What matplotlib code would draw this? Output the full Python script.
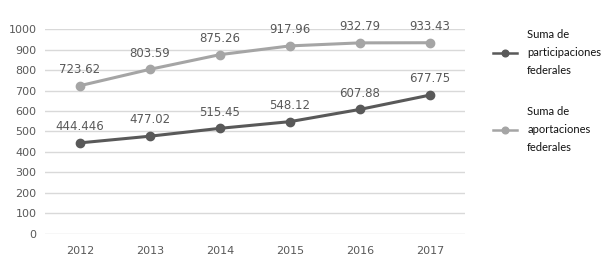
import matplotlib.pyplot as plt

years = ['2012', '2013', '2014', '2015', '2016', '2017']
participaciones = [444.446, 477.02, 515.45, 548.12, 607.88, 677.75]
aportaciones = [723.62, 803.59, 875.26, 917.96, 932.79, 933.43]
part_labels = ['444.446', '477.02', '515.45', '548.12', '607.88', '677.75']
apor_labels = ['723.62', '803.59', '875.26', '917.96', '932.79', '933.43']

dark = '#595959'
light = '#A5A5A5'

fig = plt.figure(figsize=(6.15, 2.67), dpi=100)
ax = fig.add_axes([0.073, 0.124, 0.683, 0.767])

x = range(len(years))
ax.plot(x, participaciones, color=dark, lw=2.2, marker='o', ms=6,
        label='Suma de\nparticipaciones\nfederales')
ax.plot(x, aportaciones, color=light, lw=2.2, marker='o', ms=6,
        label='Suma de\naportaciones\nfederales')

for xi, v, s in zip(x, participaciones, part_labels):
    ax.annotate(s, (xi, v), xytext=(0, 7), textcoords='offset points',
                ha='center', va='bottom', fontsize=8.5, color=dark)
for xi, v, s in zip(x, aportaciones, apor_labels):
    ax.annotate(s, (xi, v), xytext=(0, 7), textcoords='offset points',
                ha='center', va='bottom', fontsize=8.5, color=dark)

ax.set_xlim(-0.5, 5.5)
ax.set_ylim(0, 1000)
ax.set_yticks(range(0, 1001, 100))
ax.set_xticks(list(x))
ax.set_xticklabels(years)
ax.grid(axis='y', color='#D9D9D9', lw=1)
ax.set_axisbelow(True)
for sp in ax.spines.values():
    sp.set_visible(False)
ax.tick_params(length=0, labelsize=8, colors=dark, pad=6)
ax.tick_params(axis='x', pad=9)

leg = fig.legend(loc='upper left', bbox_to_anchor=(0.785, 0.928), frameon=False,
                 labelspacing=2.75, handlelength=2.2, handletextpad=0.9,
                 markerscale=0.8, labelcolor='#111111',
                 prop={'family': 'Lato', 'size': 8})
for t in leg.get_texts():
    t.set_linespacing(1.75)
for line in leg.get_lines():
    line.set_linewidth(1.8)

fig.savefig('out.png', dpi=100)
